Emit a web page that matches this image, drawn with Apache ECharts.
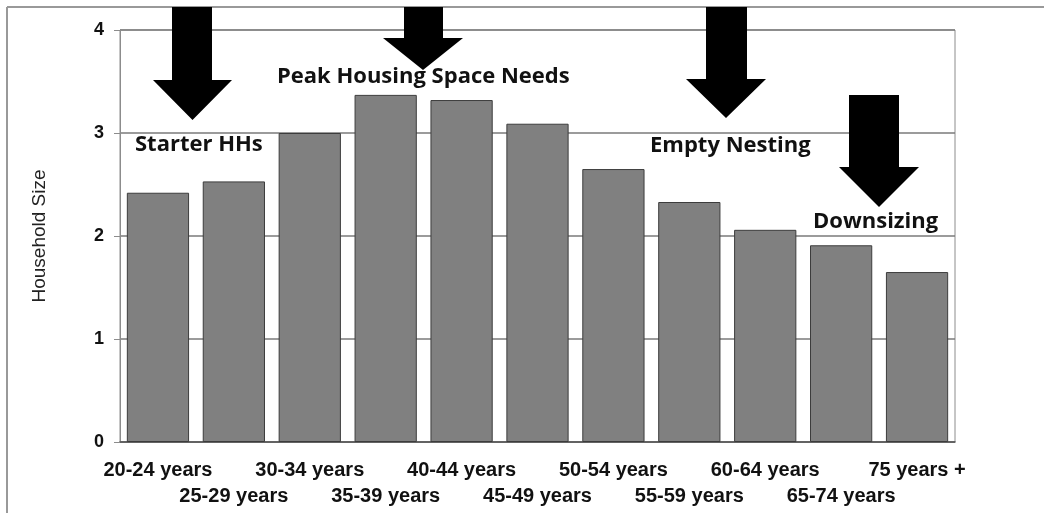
<!DOCTYPE html>
<html>
<head>
<meta charset="utf-8">
<script src="https://cdn.jsdelivr.net/npm/echarts@6/dist/echarts.min.js"></script>
<style>
  html, body { margin: 0; padding: 0; background: #fff; }
  #chart { width: 1044px; height: 513px; }
</style>
</head>
<body>
<div id="chart"></div>
<script>
// age groups and average household size
var ageGroups = ['20-24 years', '25-29 years', '30-34 years', '35-39 years', '40-44 years',
    '45-49 years', '50-54 years', '55-59 years', '60-64 years', '65-74 years', '75 years +'];
var householdSize = [2.42, 2.53, 3.0, 3.37, 3.32, 3.09, 2.65, 2.33, 2.06, 1.91, 1.65];
var yTicks = [0, 1, 2, 3, 4];

var labelFont = 'Liberation Sans, Arial';

// block arrow pointing down: shaft x0..x1 from y0, head starts at yh, tip at yt, head spans hx0..hx1
function arrow(x0, x1, y0, yh, yt, hx0, hx1) {
    var tip = (hx0 + hx1) / 2;
    return {
        type: 'polygon',
        shape: { points: [[x0, y0], [x1, y0], [x1, yh], [hx1, yh], [tip, yt], [hx0, yh], [x0, yh]] },
        style: { fill: '#000' },
        z: 10
    };
}

function note(txt, x, y) {
    return {
        type: 'text',
        style: {
            x: x, y: y, text: txt, fill: '#111',
            font: 'bold 22px "Open Sans"',
            verticalAlign: 'middle'
        },
        z: 11
    };
}

var chart = echarts.init(document.getElementById('chart'));
chart.setOption({
    animation: false,
    grid: {
        left: 120, right: 89, top: 30, bottom: 71,
        show: true, borderColor: '#8c8c8c', borderWidth: 1, backgroundColor: '#fff'
    },
    xAxis: {
        type: 'category',
        data: ageGroups,
        axisTick: { show: false },
        axisLine: { lineStyle: { color: '#555', width: 1.5 } },
        axisLabel: {
            interval: 0,
            margin: 15,
            color: '#111',
            fontFamily: labelFont,
            fontWeight: 'bold',
            fontSize: 20,
            lineHeight: 26,
            formatter: function (v, i) { return i % 2 ? '\n' + v : v; }
        }
    },
    yAxis: {
        type: 'value',
        min: 0, max: 4, interval: 1,
        name: 'Household Size',
        nameLocation: 'middle',
        nameGap: 71,
        nameTextStyle: { color: '#222', fontFamily: labelFont, fontSize: 19 },
        axisLine: { show: true, lineStyle: { color: '#8c8c8c' } },
        axisTick: { show: true, length: 6, lineStyle: { color: '#8c8c8c' } },
        splitLine: { lineStyle: { color: '#7a7a7a', width: 1.5 } },
        axisLabel: {
            margin: 16,
            color: '#111',
            fontFamily: labelFont,
            fontWeight: 'bold',
            fontSize: 18,
            formatter: function (v) { return yTicks.indexOf(v) >= 0 ? String(v) : ''; }
        }
    },
    series: [{
        type: 'bar',
        data: householdSize,
        barCategoryGap: '18%',
        itemStyle: { color: '#808080', borderColor: '#3c3c3c', borderWidth: 1 }
    }],
    graphic: [
        // outer frame of the figure
        { type: 'line', shape: { x1: 7, y1: 7, x2: 1044, y2: 7 }, style: { stroke: '#999', lineWidth: 2 } },
        { type: 'line', shape: { x1: 7, y1: 7, x2: 7, y2: 513 }, style: { stroke: '#999', lineWidth: 2 } },
        arrow(172, 212, 7, 80, 120, 153, 232),
        arrow(404, 443, 7, 38, 70, 383, 463),
        arrow(706, 747, 7, 79, 118, 686, 766),
        arrow(849, 899, 95, 167, 207, 839, 919),
        note('Starter HHs', 135, 145),
        note('Peak Housing Space Needs', 277, 77),
        note('Empty Nesting', 650, 146),
        note('Downsizing', 813, 222)
    ]
});
</script>
</body>
</html>
